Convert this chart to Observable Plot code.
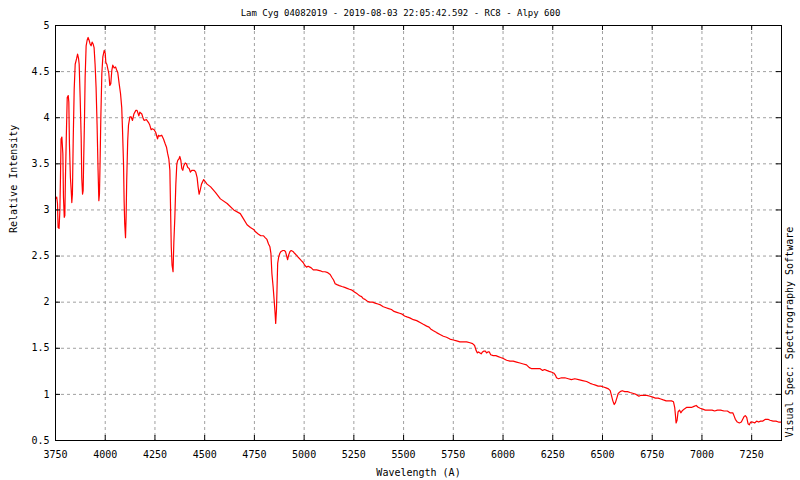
<!DOCTYPE html>
<html>
<head>
<meta charset="utf-8">
<script src="https://cdn.jsdelivr.net/npm/d3@7"></script>
<script src="https://cdn.jsdelivr.net/npm/@observablehq/plot@0.6"></script>
<style>
  body { margin: 0; background: white; }
</style>
</head>
<body>
<div id="chart"></div>
<script>
const title = "Lam Cyg 04082019 - 2019-08-03 22:05:42.592 - RC8 - Alpy 600";
const xLabel = "Wavelength (A)";
const yLabel = "Relative Intensity";
const credit = "Visual Spec: Spectrography Software";

const xTicks = [3750, 4000, 4250, 4500, 4750, 5000, 5250, 5500, 5750, 6000, 6250, 6500, 6750, 7000, 7250];
const yTicks = [0.5, 1, 1.5, 2, 2.5, 3, 3.5, 4, 4.5, 5];

// spectrum, wavelength (A) / relative intensity
const wavelength = [
  3750, 3756, 3760, 3763, 3768, 3772, 3775, 3778, 3782, 3787, 3790, 3794, 3797, 3800, 3805, 3809,
  3814, 3817, 3820, 3825, 3829, 3832, 3835, 3839, 3844, 3849, 3856, 3861, 3866, 3869, 3874, 3879,
  3882, 3886, 3889, 3892, 3896, 3899, 3904, 3909, 3914, 3919, 3924, 3929, 3934, 3939, 3944, 3949,
  3954, 3959, 3964, 3968, 3971, 3974, 3978, 3983, 3988, 3995, 4000, 4003, 4008, 4013, 4018, 4023,
  4028, 4033, 4038, 4045, 4052, 4057, 4063, 4070, 4077, 4083, 4087, 4092, 4095, 4098, 4102, 4105,
  4108, 4113, 4117, 4124, 4130, 4137, 4144, 4154, 4160, 4169, 4174, 4184, 4191, 4196, 4207, 4217,
  4224, 4231, 4237, 4246, 4254, 4263, 4268, 4274, 4284, 4293, 4301, 4308, 4314, 4320, 4325, 4328,
  4332, 4336, 4341, 4345, 4350, 4355, 4360, 4365, 4370, 4375, 4380, 4385, 4390, 4395, 4402, 4408,
  4415, 4422, 4428, 4435, 4442, 4448, 4455, 4462, 4467, 4472, 4477, 4484, 4495, 4512, 4530, 4554,
  4579, 4613, 4646, 4679, 4696, 4713, 4730, 4748, 4757, 4769, 4782, 4796, 4804, 4813, 4821, 4828,
  4833, 4838, 4844, 4849, 4854, 4857, 4861, 4864, 4867, 4872, 4878, 4884, 4893, 4900, 4906, 4911,
  4917, 4922, 4929, 4935, 4944, 4952, 4961, 4969, 4978, 4986, 4995, 5003, 5012, 5020, 5029, 5037,
  5046, 5063, 5082, 5092, 5105, 5119, 5131, 5139, 5148, 5156, 5165, 5177, 5190, 5204, 5216, 5228,
  5241, 5253, 5267, 5279, 5289, 5296, 5306, 5318, 5330, 5344, 5357, 5371, 5384, 5398, 5412, 5425,
  5439, 5452, 5466, 5480, 5493, 5505, 5517, 5531, 5549, 5566, 5583, 5599, 5616, 5628, 5636, 5650,
  5666, 5683, 5700, 5716, 5733, 5750, 5767, 5783, 5817, 5834, 5847, 5857, 5864, 5871, 5877, 5884,
  5890, 5897, 5904, 5911, 5917, 5924, 5931, 5938, 5951, 5964, 5976, 5988, 6001, 6018, 6035, 6051,
  6068, 6085, 6102, 6118, 6132, 6142, 6169, 6185, 6199, 6209, 6219, 6232, 6246, 6256, 6263, 6269,
  6279, 6294, 6311, 6328, 6344, 6361, 6380, 6400, 6420, 6438, 6451, 6465, 6478, 6492, 6505, 6518,
  6530, 6539, 6545, 6552, 6559, 6565, 6572, 6579, 6589, 6599, 6612, 6626, 6639, 6656, 6669, 6683,
  6693, 6723, 6739, 6753, 6766, 6780, 6793, 6806, 6820, 6847, 6857, 6863, 6867, 6870, 6875, 6880,
  6887, 6894, 6900, 6910, 6924, 6950, 6960, 6971, 6981, 6991, 7004, 7017, 7051, 7064, 7078, 7094,
  7111, 7128, 7141, 7155, 7161, 7168, 7178, 7188, 7198, 7205, 7212, 7218, 7225, 7232, 7238, 7245,
  7255, 7265, 7275, 7285, 7295, 7305, 7319, 7332, 7342, 7358, 7372, 7385, 7400
];
const intensity = [
  3.12, 3.14, 3.07, 2.81, 2.80, 3.00, 3.35, 3.77, 3.79, 3.61, 3.14, 2.92, 2.94, 3.35, 3.86, 4.22,
  4.24, 4.17, 3.72, 3.35, 3.21, 3.08, 3.17, 3.75, 4.31, 4.58, 4.64, 4.69, 4.64, 4.58, 4.22, 3.79,
  3.35, 3.17, 3.21, 3.57, 4.01, 4.44, 4.78, 4.84, 4.87, 4.84, 4.80, 4.78, 4.82, 4.80, 4.76, 4.58,
  4.33, 3.93, 3.43, 3.10, 3.17, 3.50, 4.01, 4.48, 4.66, 4.73, 4.70, 4.60, 4.58, 4.53, 4.48, 4.35,
  4.37, 4.51, 4.57, 4.54, 4.55, 4.52, 4.49, 4.37, 4.26, 4.11, 3.86, 3.50, 3.10, 2.85, 2.70, 2.92,
  3.32, 3.75, 3.92, 4.01, 4.01, 3.97, 4.04, 4.08, 4.08, 4.02, 4.06, 4.04, 3.99, 3.97, 3.98, 3.95,
  3.92, 3.87, 3.88, 3.87, 3.84, 3.77, 3.81, 3.80, 3.81, 3.77, 3.72, 3.68, 3.61, 3.55, 3.43, 3.07,
  2.60, 2.40, 2.33, 2.65, 2.92, 3.28, 3.50, 3.54, 3.55, 3.58, 3.54, 3.45, 3.43, 3.48, 3.51, 3.50,
  3.46, 3.45, 3.41, 3.43, 3.43, 3.43, 3.41, 3.35, 3.25, 3.17, 3.21, 3.28, 3.33, 3.28, 3.25, 3.19,
  3.12, 3.07, 3.00, 2.96, 2.90, 2.84, 2.81, 2.785, 2.76, 2.74, 2.72, 2.72, 2.70, 2.68, 2.63, 2.60,
  2.53, 2.31, 2.17, 2.03, 1.88, 1.77, 1.92, 2.17, 2.42, 2.49, 2.53, 2.55, 2.56, 2.56, 2.55, 2.51,
  2.46, 2.51, 2.55, 2.56, 2.55, 2.53, 2.51, 2.49, 2.47, 2.45, 2.43, 2.40, 2.38, 2.39, 2.38, 2.37,
  2.35, 2.35, 2.34, 2.33, 2.33, 2.32, 2.30, 2.27, 2.24, 2.20, 2.19, 2.18, 2.17, 2.16, 2.15, 2.14,
  2.13, 2.11, 2.09, 2.07, 2.06, 2.04, 2.03, 2.01, 2.00, 2.00, 1.99, 1.98, 1.97, 1.95, 1.94, 1.93,
  1.92, 1.90, 1.89, 1.88, 1.87, 1.85, 1.84, 1.83, 1.81, 1.80, 1.78, 1.76, 1.74, 1.73, 1.71, 1.69,
  1.67, 1.65, 1.63, 1.62, 1.60, 1.59, 1.58, 1.57, 1.57, 1.56, 1.55, 1.53, 1.48, 1.45, 1.46, 1.45,
  1.44, 1.46, 1.47, 1.47, 1.45, 1.46, 1.46, 1.43, 1.42, 1.42, 1.41, 1.40, 1.39, 1.37, 1.36, 1.36,
  1.35, 1.34, 1.33, 1.32, 1.29, 1.28, 1.28, 1.28, 1.26, 1.27, 1.26, 1.25, 1.24, 1.23, 1.21, 1.18,
  1.17, 1.18, 1.18, 1.17, 1.16, 1.17, 1.16, 1.15, 1.14, 1.12, 1.11, 1.10, 1.09, 1.09, 1.08, 1.07,
  1.06, 1.04, 0.99, 0.93, 0.89, 0.91, 0.96, 1.01, 1.03, 1.04, 1.03, 1.03, 1.02, 1.01, 1.00, 0.98,
  0.99, 0.99, 0.98, 0.97, 0.96, 0.96, 0.95, 0.94, 0.93, 0.93, 0.92, 0.86, 0.77, 0.69, 0.72, 0.81,
  0.83, 0.80, 0.82, 0.84, 0.86, 0.86, 0.87, 0.88, 0.86, 0.85, 0.84, 0.83, 0.83, 0.82, 0.83, 0.83,
  0.82, 0.82, 0.80, 0.80, 0.77, 0.73, 0.70, 0.69, 0.70, 0.73, 0.76, 0.77, 0.75, 0.68, 0.67, 0.70,
  0.70, 0.69, 0.71, 0.70, 0.71, 0.71, 0.73, 0.73, 0.72, 0.71, 0.71, 0.70, 0.70
];

const W = 800, H = 480;
const mL = 55, mR = 19, mT = 25, mB = 40;
const frameW = W - mL - mR, frameH = H - mT - mB;
const tick = 5;
const grey = "#a0a0a0";

const plot = Plot.plot({
  width: W,
  height: H,
  marginLeft: mL,
  marginRight: mR,
  marginTop: mT,
  marginBottom: mB,
  style: {
    fontFamily: "'DejaVu Sans Mono', monospace",
    fontSize: "10px",
    background: "white",
    color: "black"
  },
  x: { domain: [3750, 7400] },
  y: { domain: [0.5, 5] },
  marks: [
    Plot.gridX(xTicks, { stroke: grey, strokeOpacity: 1, strokeDasharray: "3,3" }),
    Plot.gridY(yTicks, { stroke: grey, strokeOpacity: 1, strokeDasharray: "3,3" }),
    Plot.line({ length: wavelength.length }, {
      x: wavelength,
      y: intensity,
      stroke: "#ff0000",
      strokeWidth: 1.2,
      curve: "linear"
    }),
    Plot.frame({ stroke: "black" }),
    // inward ticks on all four sides, gnuplot style
    Plot.ruleY(yTicks, { y: (d) => d, insetRight: frameW - tick, stroke: "black" }),
    Plot.ruleY(yTicks, { y: (d) => d, insetLeft: frameW - tick, stroke: "black" }),
    Plot.ruleX(xTicks, { x: (d) => d, insetTop: frameH - tick, stroke: "black" }),
    Plot.ruleX(xTicks, { x: (d) => d, insetBottom: frameH - tick, stroke: "black" }),
    Plot.axisX({ ticks: xTicks, tickSize: 0, tickPadding: 10, tickFormat: (d) => String(d), label: null }),
    Plot.axisY({ ticks: yTicks, tickSize: 0, tickPadding: 6, tickFormat: (d) => String(d), label: null }),
    Plot.text([title], { text: (d) => d, frameAnchor: "top", dx: -18, dy: -12, fontSize: 9, lineAnchor: "middle" }),
    Plot.text([xLabel], { text: (d) => d, frameAnchor: "bottom", dy: 32, lineAnchor: "middle" }),
    Plot.text([yLabel], { text: (d) => d, frameAnchor: "left", dx: -41.5, rotate: -90, lineAnchor: "middle" }),
    Plot.text([credit], { text: (d) => d, frameAnchor: "bottom-right", dx: 8, dy: -3, rotate: -90, textAnchor: "start", lineAnchor: "middle" })
  ]
});
document.getElementById("chart").append(plot);
</script>
</body>
</html>
